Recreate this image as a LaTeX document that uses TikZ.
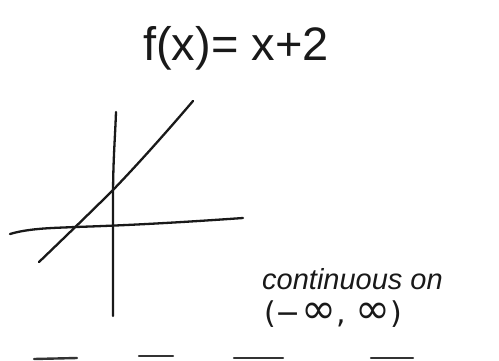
\documentclass[tikz,border=0pt]{standalone}
\usepackage{fontspec}
\setmainfont{Liberation Sans}
\newfontfamily\symfont{DejaVu Sans}
\newcommand{\biginf}{\smash{\fontsize{42}{42}\selectfont ∞}}
\usetikzlibrary{positioning}

\begin{document}
\begin{tikzpicture}[
  x=1pt, y=-1pt,
  pen/.style={draw=black!90, line width=2.3pt, line cap=round, line join=round},
  scrap/.style={draw=black!80, line width=2.4pt, line cap=round},
  hand/.style={text=black!90, inner sep=0pt, anchor=base west}
]
\useasboundingbox (0,0) rectangle (499,360);

% ---------------- the function ----------------
\node[hand, font=\fontsize{47}{50}\selectfont] (title) at (143, 60) {f(x)= x+2};

% ---------------- the sketch ----------------
\coordinate (ytop) at (116, 112);
\coordinate (ybot) at (113, 316);
\coordinate (xleft) at (10, 234);
\coordinate (xright) at (243, 218);
\coordinate (lo) at (39, 262);
\coordinate (hi) at (193, 101);

\draw[pen] (ytop) .. controls (115, 140) and (113, 160) .. (113, 200) -- (ybot);
\draw[pen] (xleft) .. controls (30, 228) and (55, 228) .. (75, 227)
  .. controls (140, 225) and (200, 221) .. (xright);
\draw[pen] (lo) .. controls (64, 238) and (95, 208) .. (113, 190)
  .. controls (140, 162) and (170, 128) .. (hi);

% ---------------- the note ----------------
\node[hand, font=\itshape\fontsize{29}{32}\selectfont] (cont) at (262, 289) {continuous on};
\node[hand, font=\symfont\fontsize{30}{34}\selectfont] (dom) at (264, 323) {(−\biginf, \biginf)};

% the next line, cut off at the edge
\draw[scrap] (34, 359) -- (77, 358);
\draw[scrap] (139, 356) -- (173, 356);
\draw[scrap] (234, 358) -- (283, 358);
\draw[scrap] (371, 358) -- (413, 358);

\end{tikzpicture}
\end{document}
